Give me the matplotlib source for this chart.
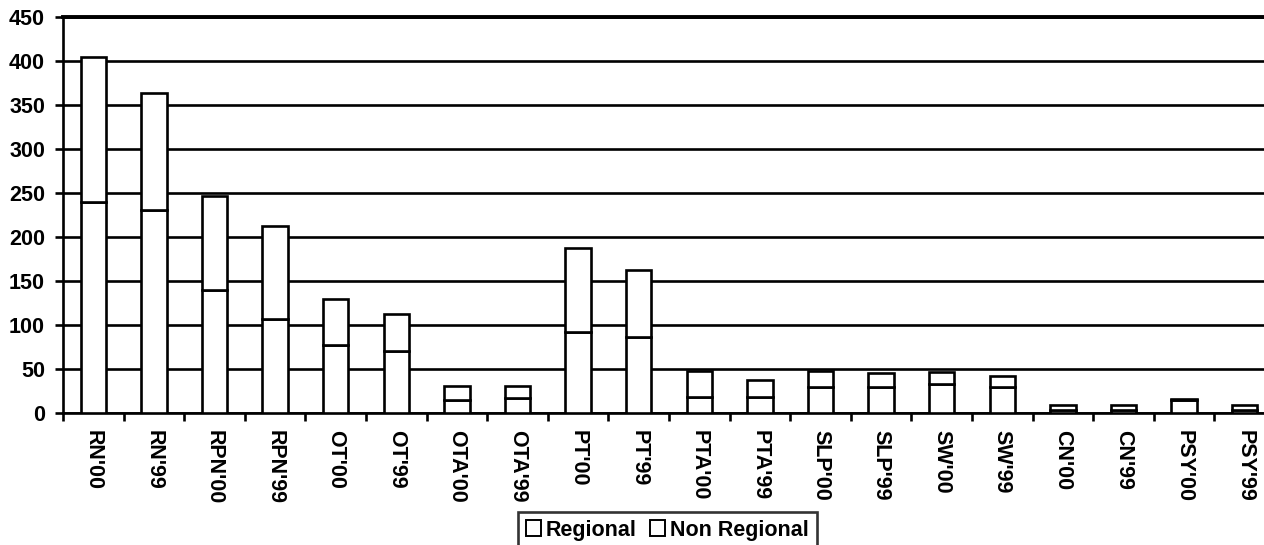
import matplotlib
matplotlib.use("Agg")
import matplotlib.pyplot as plt
from matplotlib.patches import Patch
import numpy as np

plt.rcParams['font.family'] = ['Liberation Sans', 'DejaVu Sans']
plt.rcParams['font.weight'] = 'bold'
plt.rcParams['font.size'] = 15.5

categories = ["RN'00", "RN'99", "RPN'00", "RPN'99", "OT'00", "OT'99", "OTA'00", "OTA'99",
              "PT'00", "PT'99", "PTA'00", "PTA'99", "SLP'00", "SLP'99", "SW'00", "SW'99",
              "CN'00", "CN'99", "PSY'00", "PSY'99"]
regional = [240, 231, 140, 107, 77, 71, 15, 17, 92, 86, 18, 18, 30, 29, 33, 29, 3, 3, 15, 3]
non_regional = [164, 133, 107, 105, 53, 41, 16, 14, 96, 76, 30, 20, 18, 17, 14, 13, 6, 6, 1, 6]
yticks = list(range(0, 451, 50))

W, H = 1264, 545
fig = plt.figure(figsize=(W / 100, H / 100), dpi=100)
# plot area runs past the right edge of the picture, as in the original
ax = fig.add_axes([63 / W, 1 - 413 / H, 1212 / W, 396 / H])

x = np.arange(len(categories))
lw = 1.9
ax.bar(x, regional, width=0.42, color='white', edgecolor='black', linewidth=lw, zorder=3)
ax.bar(x, non_regional, width=0.42, bottom=regional, color='white', edgecolor='black',
       linewidth=lw, zorder=3)

ax.set_ylim(0, 450)
ax.set_xlim(-0.5, len(categories) - 0.5)
ax.set_yticks(yticks)
ax.yaxis.grid(True, color='black', linewidth=lw, zorder=0)
ax.set_axisbelow(True)

ax.set_xticks(np.arange(-0.5, len(categories), 1.0))
ax.set_xticklabels([])
ax.set_xticks(x, minor=True)
ax.set_xticklabels(categories, minor=True, rotation=-90, va='top', ha='center')
ax.tick_params(axis='x', which='major', length=6, width=lw, direction='out')
ax.tick_params(axis='x', which='minor', length=0, pad=12)
ax.tick_params(axis='y', length=6, width=lw, direction='out', pad=7)

for s in ['left', 'bottom']:
    ax.spines[s].set_linewidth(lw)
ax.spines['top'].set_linewidth(2.8)
ax.spines['right'].set_visible(False)

handles = [Patch(facecolor='white', edgecolor='black', linewidth=1.4),
           Patch(facecolor='white', edgecolor='black', linewidth=1.4)]
leg = fig.legend(handles, ['Regional', 'Non Regional'], ncol=2, loc='upper left',
                 bbox_to_anchor=(518 / W, 1 - 512 / H), frameon=True, fancybox=False,
                 handlelength=0.7, handleheight=0.7, handletextpad=0.25, columnspacing=0.6,
                 borderpad=0.35, borderaxespad=0)
leg.get_frame().set_edgecolor('black')
leg.get_frame().set_linewidth(lw)

fig.savefig('out.png', dpi=100)
